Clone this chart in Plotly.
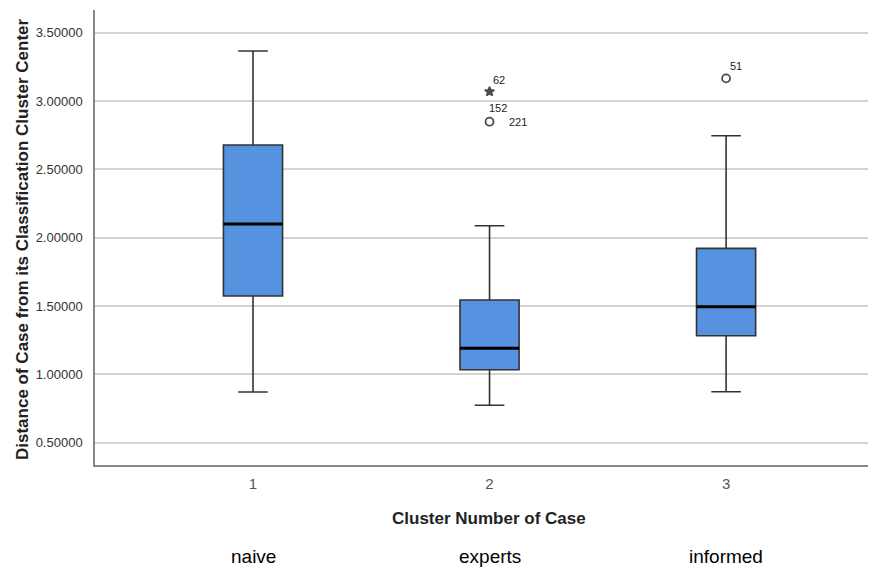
import plotly.graph_objects as go

# ---- data ----
clusters = [1, 2, 3]
cluster_names = ["naive", "experts", "informed"]
q1_vals = [1.573, 1.034, 1.283]
median_vals = [2.100, 1.191, 1.495]
q3_vals = [2.678, 1.544, 1.922]
lower_fence = [0.871, 0.774, 0.873]
upper_fence = [3.366, 2.088, 2.746]

outlier_cluster = [2, 2, 3]
outlier_value = [3.069, 2.849, 3.166]
outlier_symbol = ["star", "circle-open", "circle-open"]
outlier_size = [7, 8, 8]

label_cluster = [2, 2, 2, 3]
label_value = [3.069, 2.849, 2.849, 3.166]
label_case = ["62", "152", "221", "51"]
label_offsets = [(9, 12), (8, 14), (28, 0), (10, 12)]

y_ticks = [0.5, 1.0, 1.5, 2.0, 2.5, 3.0, 3.5]

BOX_W = 0.25
FONT = "Liberation Sans, Arial, sans-serif"

fig = go.Figure()

fig.add_trace(go.Box(
    x=clusters, q1=q1_vals, median=median_vals, q3=q3_vals,
    lowerfence=lower_fence, upperfence=upper_fence,
    boxpoints=False, width=BOX_W, whiskerwidth=0.5,
    fillcolor="#5592E0", line=dict(color="#333333", width=1.6),
    showlegend=False, hoverinfo="skip",
))

# thick black median lines
mx, my = [], []
for c, m in zip(clusters, median_vals):
    mx += [c - BOX_W / 2, c + BOX_W / 2, None]
    my += [m, m, None]
fig.add_trace(go.Scatter(x=mx, y=my, mode="lines",
                         line=dict(color="black", width=3),
                         showlegend=False, hoverinfo="skip"))

fig.add_trace(go.Scatter(
    x=outlier_cluster, y=outlier_value, mode="markers",
    marker=dict(symbol=outlier_symbol, size=outlier_size, color="black",
                line=dict(color="black", width=1.8)),
    showlegend=False, hoverinfo="skip"))

annotations = []
for c, v, t, (dx, dy) in zip(label_cluster, label_value, label_case, label_offsets):
    annotations.append(dict(x=c, y=v, xref="x", yref="y", text=t, showarrow=False,
                            xshift=dx, yshift=dy,
                            font=dict(family=FONT, size=11, color="#222")))

for c, name in zip(clusters, cluster_names):
    annotations.append(dict(x=c, y=0, xref="x", yref="paper", text=name,
                            showarrow=False, yanchor="middle", yshift=-91,
                            font=dict(family=FONT, size=19, color="black")))

annotations.append(dict(x=0.5, y=0, xref="paper", yref="paper",
                        text="<b>Cluster Number of Case</b>", showarrow=False,
                        yanchor="middle", yshift=-53, xshift=7,
                        font=dict(family=FONT, size=17, color="#222")))
annotations.append(dict(x=0, y=0.4967, xref="paper", yref="paper",
                        text="<b>Distance of Case from its Classification Cluster Center</b>",
                        showarrow=False, textangle=-90, xanchor="center", yanchor="middle",
                        xshift=-73,
                        font=dict(family=FONT, size=17, color="#222")))

fig.update_layout(
    width=871, height=567,
    margin=dict(l=95, r=3, t=10, b=102),
    paper_bgcolor="white", plot_bgcolor="white",
    annotations=annotations,
    xaxis=dict(range=[0.332, 3.6], tickvals=clusters, ticktext=[str(c) for c in clusters],
               showgrid=False, zeroline=False, showline=True, linecolor="#888", linewidth=1.5,
               ticks="outside", ticklen=4, tickcolor="rgba(0,0,0,0)",
               tickfont=dict(family=FONT, size=15, color="#555")),
    yaxis=dict(range=[0.337, 3.666], tickvals=y_ticks, tickformat=".5f",
               showgrid=True, gridcolor="#d4d4d4", gridwidth=1.5, zeroline=False,
               showline=True, linecolor="#888", linewidth=1.5,
               ticks="outside", ticklen=8, tickcolor="rgba(0,0,0,0)",
               tickfont=dict(family=FONT, size=13, color="#333")),
)

fig.write_html("out.html", config={"displayModeBar": False},
               post_script="document.body.style.margin='0';document.body.style.overflow='hidden';")
